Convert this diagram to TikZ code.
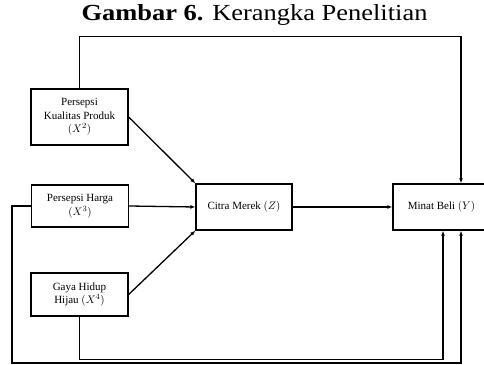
\documentclass[tikz,border=0pt]{standalone}
\usepackage{fontspec}
\setmainfont{Liberation Serif}
\usepackage{amsmath}
\usetikzlibrary{arrows.meta, positioning, calc}

\begin{document}
\begin{tikzpicture}[x=1pt, y=1pt,
  every node/.style={font=\fontsize{11}{13.5}\selectfont},
  varbox/.style={draw, line width=1.3pt, align=center, minimum width=97pt, inner sep=2pt},
  arr/.style={-{Latex[length=5pt,width=4pt]}, line width=1.3pt}]
  \useasboundingbox (0,0) rectangle (484,364);
  % judul
  \node[font=\fontsize{23}{26}\selectfont, xscale=1.15, transform shape] (judul) at (254.5,349) {\textbf{Gambar 6.} Kerangka Penelitian};
  % variabel
  \node[varbox, minimum height=56pt] (kual) at (79.5,247) {Persepsi\\Kualitas Produk\\$(X^2)$};
  \node[varbox, minimum height=42pt] (harga) at (80,158) {Persepsi Harga\\$(X^3)$};
  \node[varbox, minimum height=43pt] (gaya) at (79.5,69.5) {Gaya Hidup\\Hijau $(X^4)$};
  \node[varbox, minimum width=96pt, minimum height=46pt] (citra) at (244,157) {Citra Merek $(Z)$};
  \node[varbox, minimum height=46pt] (minat) at (441.5,157) {Minat Beli $(Y)$};
  % hubungan
  \draw[arr] (kual.east) -- (citra.north west);
  \draw[arr] (harga.east) -- (citra.west);
  \draw[arr] (gaya.east) -- (citra.south west);
  \draw[arr] (citra) -- (minat);
  \draw[arr] (kual.north) -- ++(0,52) -| ([xshift=19.5pt]minat.north);
  \draw[arr] (gaya.south) -- ++(0,-42.5) -| ([xshift=1.5pt]minat.south);
  \draw[arr] (harga.west) -- ++(-19,0) |- (200,1) -| ([xshift=19.5pt]minat.south);
\end{tikzpicture}
\end{document}
